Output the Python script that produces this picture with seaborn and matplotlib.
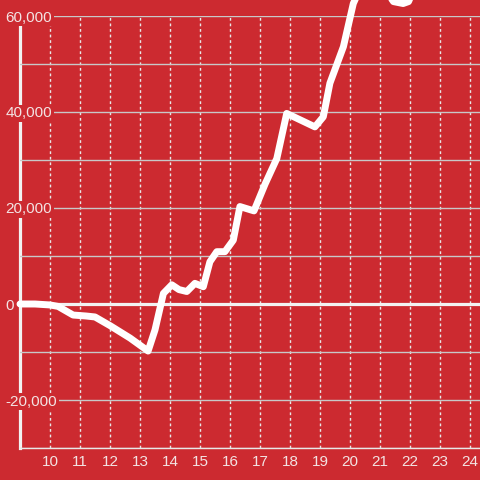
import matplotlib
matplotlib.use("Agg")
import matplotlib.pyplot as plt
from matplotlib.ticker import MultipleLocator, FuncFormatter
import seaborn as sns
import pandas as pd

BG = "#CC2A30"
TXT = "#F3E3E3"

x_vals = [9.0, 9.5, 10.0, 10.27, 10.77, 11.2, 11.5, 12.0, 12.67, 13.27,
          13.5, 13.78, 14.06, 14.3, 14.56, 14.83, 15.11, 15.33, 15.56, 15.83,
          16.11, 16.33, 16.8, 17.17, 17.56, 17.89, 18.83, 19.11, 19.33, 19.78,
          20.11, 20.5, 21.0, 21.45, 21.77, 21.95, 22.3, 22.8, 23.4, 24.0, 24.4]
y_vals = [0, 0, -200, -500, -2300, -2500, -2700, -4500, -7100, -9800,
          -5400, 2200, 4000, 3000, 2600, 4300, 3600, 8800, 10900, 10900,
          13300, 20300, 19400, 25000, 30300, 39700, 36900, 39000, 46000, 53600,
          62600, 68000, 67000, 63000, 62600, 63000, 68000, 70000, 72000, 74000, 75000]
x_ticks = list(range(10, 25))

df = pd.DataFrame({"x": x_vals, "y": y_vals})

sns.set_style("white", rc={"axes.facecolor": BG, "figure.facecolor": BG})
plt.rcParams["font.family"] = ["Liberation Sans", "DejaVu Sans"]

fig = plt.figure(figsize=(4.8, 4.8), dpi=100)
ax = fig.add_axes([20 / 480, 32 / 480, 460 / 480, 432 / 480])
ax.set_facecolor(BG)

sns.lineplot(data=df, x="x", y="y", ax=ax, color="white", linewidth=5,
             estimator=None, sort=False, zorder=3, clip_on=False,
             solid_capstyle="round", solid_joinstyle="round")

ax.set_xlim(9, 24.333)
ax.set_ylim(-30000, 60000)
ax.set_xlabel("")
ax.set_ylabel("")

ax.set_xticks(x_ticks)
ax.yaxis.set_major_locator(MultipleLocator(20000))
ax.yaxis.set_minor_locator(MultipleLocator(10000))
ax.yaxis.set_major_formatter(FuncFormatter(lambda v, p: f"{int(v):,}"))

ax.set_axisbelow(True)
ax.grid(axis="y", which="both", color="#C8C8C8", linewidth=1.0, linestyle="-")
ax.grid(axis="x", which="major", color="#E8E8E8", linewidth=1.0, linestyle=(0, (2, 2)))

ax.axhline(0, color="#F2F2F2", linewidth=2.3, zorder=2.6)

for s in ["top", "right"]:
    ax.spines[s].set_visible(False)
ax.spines["left"].set_color("#F2F2F2")
ax.spines["left"].set_linewidth(2.3)
ax.spines["left"].set_zorder(0.4)
ax.spines["bottom"].set_color("#E8E8E8")
ax.spines["bottom"].set_linewidth(1.0)
ax.spines["bottom"].set_zorder(0.4)

ax.tick_params(axis="y", which="both", length=0, pad=10.5, labelsize=11, labelcolor=TXT)
ax.tick_params(axis="x", which="both", length=0, pad=5, labelsize=11, labelcolor=TXT)
for lab in ax.get_yticklabels():
    lab.set_horizontalalignment("left")
    lab.set_bbox(dict(facecolor=BG, edgecolor="none", pad=1.2))

fig.savefig("out.png", dpi=100, facecolor=BG)
